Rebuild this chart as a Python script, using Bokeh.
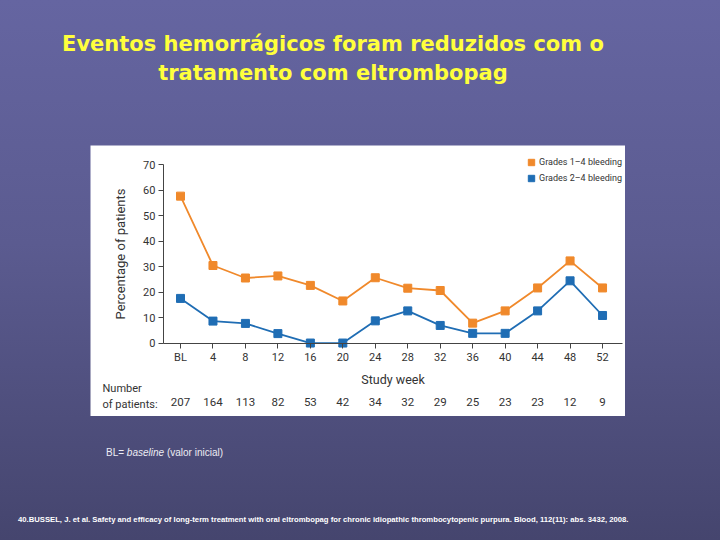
from bokeh.plotting import figure
from bokeh.models import Div, LinearAxis, FixedTicker, Label, Range1d, ColumnDataSource
from bokeh.layouts import column
from bokeh.embed import file_html
from bokeh.resources import INLINE

# ---- data ----
weeks = [0, 4, 8, 12, 16, 20, 24, 28, 32, 36, 40, 44, 48, 52]
week_labels = ["BL", "4", "8", "12", "16", "20", "24", "28", "32", "36", "40", "44", "48", "52"]
grades_1_4 = [57.6, 30.4, 25.5, 26.3, 22.6, 16.5, 25.6, 21.5, 20.6, 7.8, 12.6, 21.6, 32.2, 21.6]
grades_2_4 = [17.5, 8.6, 7.7, 3.7, 0.0, 0.0, 8.7, 12.6, 6.9, 3.8, 3.8, 12.6, 24.4, 10.8]
patients = [207, 164, 113, 82, 53, 42, 34, 32, 29, 25, 23, 23, 12, 9]
y_ticks = [0, 10, 20, 30, 40, 50, 60, 70]

series_names = ["Grades 1\u20134 bleeding", "Grades 2\u20134 bleeding"]
ORANGE = "#f0892b"
BLUE = "#1f6db4"
FONT = "Roboto"
TXT = "#333333"
AXC = "#444444"

src = ColumnDataSource(dict(week=weeks, g14=grades_1_4, g24=grades_2_4))

# plot frame = the whole white chart panel; axes are drawn inside it
x_lo, x_hi = weeks[0] - 2.1, weeks[-1] + 2.46      # extent of the x axis line
p = figure(width=535, height=271, output_backend="svg", toolbar_location=None, title=None,
           x_range=Range1d(-11.09, 54.83), y_range=Range1d(-28.8, 77.45),
           min_border_left=0, min_border_right=0, min_border_top=0, min_border_bottom=0)
p.margin = (0, 0, 0, 90)
p.background_fill_color = "white"
p.border_fill_color = "white"
p.outline_line_color = None
p.grid.visible = False

for col, color, name in [("g14", ORANGE, series_names[0]), ("g24", BLUE, series_names[1])]:
    p.line("week", col, source=src, line_color=color, line_width=1.8)
    p.scatter("week", col, source=src, marker="square", size=8, fill_color=color,
              line_color=color, legend_label=name)

# main x axis (study week)
ax1 = p.below[0]
ax1.ticker = FixedTicker(ticks=weeks)
ax1.major_label_overrides = {w: lab for w, lab in zip(weeks, week_labels)}
ax1.fixed_location = 0
ax1.bounds = (x_lo, x_hi)
ax1.axis_label = "Study week"
ax1.axis_label_text_font = FONT
ax1.axis_label_text_font_style = "normal"
ax1.axis_label_text_font_size = "12.5px"
ax1.axis_label_text_color = TXT
ax1.axis_label_standoff = 4
ax1.major_label_text_font = FONT
ax1.major_label_text_font_size = "11px"
ax1.major_label_text_color = TXT
ax1.major_label_standoff = 3
ax1.major_tick_in = 0
ax1.major_tick_out = 5
ax1.minor_tick_line_color = None
ax1.axis_line_color = AXC
ax1.major_tick_line_color = AXC

# patient-count row
ax2 = LinearAxis(ticker=FixedTicker(ticks=weeks), fixed_location=-20.8, bounds=(x_lo, x_hi),
                 major_label_overrides={w: str(n) for w, n in zip(weeks, patients)})
ax2.axis_line_color = None
ax2.major_tick_line_color = None
ax2.minor_tick_line_color = None
ax2.major_tick_out = 0
ax2.major_tick_in = 0
ax2.major_label_text_font = FONT
ax2.major_label_text_font_size = "11.5px"
ax2.major_label_text_color = TXT
ax2.major_label_standoff = 2
p.add_layout(ax2, "below")

# y axis
ay = p.left[0]
ay.ticker = FixedTicker(ticks=y_ticks)
ay.fixed_location = x_lo
ay.bounds = (y_ticks[0], y_ticks[-1])
ay.axis_label = "Percentage of patients"
ay.axis_label_text_font = FONT
ay.axis_label_text_font_style = "normal"
ay.axis_label_text_font_size = "13px"
ay.axis_label_text_color = TXT
ay.axis_label_standoff = 12
ay.major_label_text_font = FONT
ay.major_label_text_font_size = "11px"
ay.major_label_text_color = TXT
ay.major_label_standoff = 3
ay.major_tick_in = 0
ay.major_tick_out = 5
ay.minor_tick_line_color = None
ay.axis_line_color = AXC
ay.major_tick_line_color = AXC

for txt, yy in [("Number", 28), ("of patients:", 12)]:
    p.add_layout(Label(x=12, y=yy, x_units="screen", y_units="screen", text=txt,
                       text_font=FONT, text_font_size="11px", text_color=TXT,
                       text_align="left", text_baseline="middle"))

lg = p.legend[0]
lg.location = (433, 230)
lg.background_fill_alpha = 0
lg.border_line_color = None
lg.padding = 0
lg.margin = 0
lg.spacing = 0
lg.glyph_width = 16
lg.glyph_height = 16
lg.label_height = 14
lg.label_standoff = 0
lg.label_text_font = FONT
lg.label_text_font_size = "9px"
lg.label_text_color = TXT

title = Div(
    text=("<div style=\"font-family:'DejaVu Sans';font-weight:bold;font-size:21px;"
          "line-height:29px;color:#ffff3c;text-align:center;width:666px;padding-top:30px;\">"
          "Eventos hemorrágicos foram reduzidos com o<br>tratamento com eltrombopag</div>"),
    width=666, height=145, margin=(0, 0, 0, 0))

note = Div(
    text=("<div style=\"font-family:'Liberation Sans';font-size:10px;line-height:12px;"
          "color:#ececf4;padding-top:31px;padding-left:106px;\">"
          "BL= <i>baseline</i> (valor inicial)</div>"),
    width=720, height=90, margin=(0, 0, 0, 0))

ref = Div(
    text=("<div style=\"font-family:'Liberation Sans';font-weight:bold;font-size:7.7px;"
          "line-height:10px;color:#ffffff;padding-top:9px;padding-left:18px;white-space:nowrap;\">"
          "40.BUSSEL, J. et al. Safety and efficacy of long-term treatment with oral eltrombopag "
          "for chronic idiopathic thrombocytopenic purpura. Blood, 112(11): abs. 3432, 2008.</div>"),
    width=720, height=34, margin=(0, 0, 0, 0))

page = column(title, p, note, ref, width=720, height=540, spacing=0,
              styles={"background": "linear-gradient(180deg, #6565a1 0%, #5b5b90 45%, #45456e 100%)"})

open("out.html", "w").write(file_html(page, INLINE))
